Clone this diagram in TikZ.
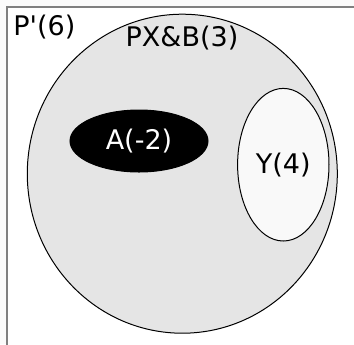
\documentclass[tikz,border=0pt]{standalone}
\usepackage{fontspec}
\setmainfont{DejaVu Sans}
\usetikzlibrary{positioning,shapes.geometric}
\definecolor{setgray}{HTML}{E5E5E5}
\definecolor{subwhite}{HTML}{F9F9F9}
\definecolor{framegray}{HTML}{808080}
\begin{document}
\begin{tikzpicture}[
    x=0.5pt, y=-0.5pt,
    setlabel/.style={inner sep=0pt, font=\fontsize{13.5}{16}\selectfont},
    region/.style={ellipse, draw, line width=0.5pt, inner sep=0pt, font=\fontsize{13.5}{16}\selectfont},
]
\useasboundingbox (0,0) rectangle (354,344);
\fill[gray!3] (0,0) rectangle (354,344);
\clip (0,0) rectangle (354,344);
\fill[white] (6.5,6.5) rectangle (360,350);
\draw[framegray, line width=1pt] (360,6.5) -- (6.5,6.5) -- (6.5,350);
\node[setlabel, anchor=base west] (plabel) at (13,35) {P\textquotesingle(6)};
\node[region, fill=setgray, minimum width=155pt, minimum height=159.5pt] (pxb) at (182.3,173.7) {};
\node[setlabel, anchor=base] (pxblabel) at (182,46.5) {PX\&B(3)};
\node[region, fill=black, text=white, minimum width=69pt, minimum height=31pt] (a) at (139,141) {A(-2)};
\node[region, fill=subwhite, minimum width=45.7pt, minimum height=76.3pt] (y) at (283.3,164.7) {Y(4)};
\end{tikzpicture}
\end{document}
